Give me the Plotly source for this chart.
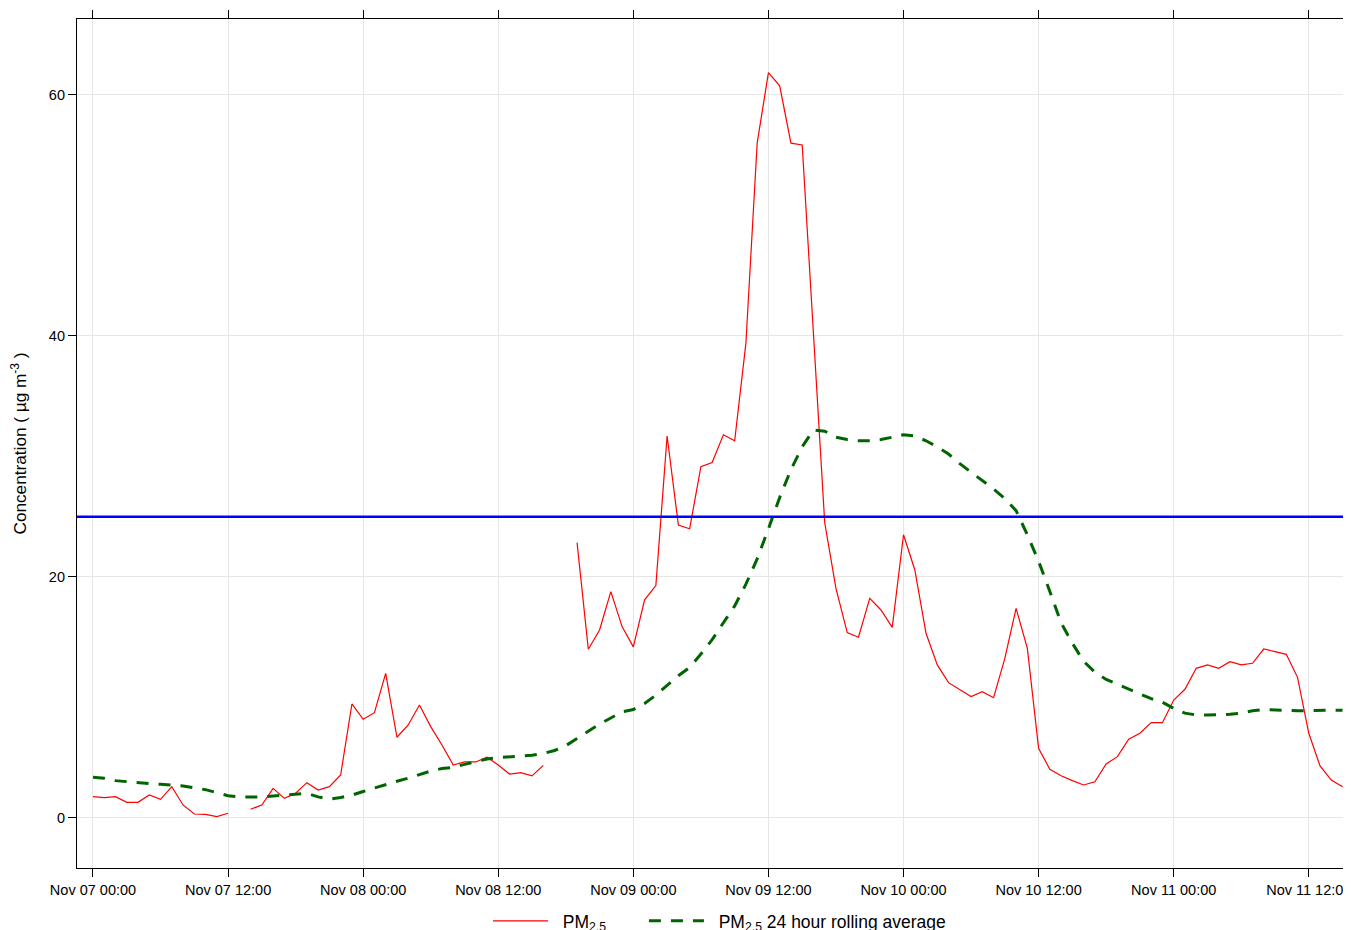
import pandas as pd
import plotly.graph_objects as go

# ---- data (hourly, starting Nov 07 00:00) ----
start = "2023-11-07 00:00"
n_hours = 112

pm25 = [1.77, 1.69, 1.77, 1.30, 1.30, 1.91, 1.55, 2.60, 1.08, 0.33, 0.30, 0.11, 0.39, None,
        0.72, 1.08, 2.46, 1.63, 2.05, 2.93, 2.32, 2.60, 3.57, 9.46, 8.19, 8.74, 12.0, 6.70,
        7.72, 9.38, 7.58, 6.06, 4.40, 4.65, 4.65, 5.04, 4.40, 3.65, 3.76, 3.49, 4.37, None,
        None, 22.85, 14.0, 15.6, 18.78, 15.88, 14.2, 18.1, 19.28, 31.7, 24.3, 24.0, 29.15, 29.5,
        31.8, 31.3, 39.4, 56.0, 61.85, 60.75, 56.0, 55.85, 39.9, 24.5, 19.06, 15.38, 15.0, 18.23,
        17.26, 15.82, 23.5, 20.6, 15.33, 12.7, 11.23, 10.68, 10.07, 10.48, 9.98, 13.25, 17.4, 14.08,
        5.78, 4.04, 3.51, 3.10, 2.74, 3.01, 4.48, 5.09, 6.53, 7.03, 7.91, 7.91, 9.79, 10.68,
        12.42, 12.7, 12.42, 12.97, 12.7, 12.84, 14.02, 13.8, 13.58, 11.67, 7.03, 4.32, 3.15, 2.6]

rolling24 = [3.38, 3.3, 3.1, 3.0, 2.9, 2.85, 2.8, 2.72, 2.65, 2.5, 2.35, 2.1, 1.85, 1.75,
             1.72, 1.75, 1.82, 1.9, 2.0, 2.05, 1.75, 1.55, 1.7, 1.9, 2.2, 2.5, 2.8, 3.05,
             3.3, 3.6, 3.9, 4.1, 4.2, 4.45, 4.7, 4.9, 5.0, 5.1, 5.15, 5.2, 5.35, 5.6,
             6.0, 6.6, 7.2, 7.8, 8.3, 8.8, 9.0, 9.5, 10.2, 11.0, 11.8, 12.5, 13.6, 14.8,
             16.2, 17.6, 19.4, 21.5, 24.0, 26.6, 28.9, 30.8, 32.2, 32.1, 31.6, 31.4, 31.3, 31.3,
             31.4, 31.6, 31.8, 31.7, 31.3, 30.8, 30.2, 29.4, 28.7, 28.0, 27.3, 26.5, 25.5, 23.5,
             21.3, 18.8, 16.2, 14.5, 13.0, 12.1, 11.5, 11.1, 10.7, 10.3, 9.9, 9.6, 9.1, 8.7,
             8.55, 8.55, 8.55, 8.6, 8.7, 8.9, 9.0, 8.95, 8.9, 8.9, 8.9, 8.95, 8.95, 8.95]

limit_value = 25
y_ticks = [0, 20, 40, 60]

times = pd.date_range(start, periods=n_hours, freq="h")
t0 = pd.Timestamp(start)

FONT = "Liberation Sans, Arial, sans-serif"
PAD = "\u00a0\u00a0"

fig = go.Figure()
fig.add_trace(go.Scatter(
    x=times, y=pm25, mode="lines", name=PAD + "PM<sub>2.5</sub>",
    line=dict(color="#FF0000", width=1.2), connectgaps=False, legend="legend",
))
fig.add_trace(go.Scatter(
    x=times, y=rolling24, mode="lines", name=PAD + "PM<sub>2.5</sub> 24 hour rolling average",
    line=dict(color="#006400", width=3, dash="12px,10px"), legend="legend2",
))
fig.add_hline(y=limit_value, line=dict(color="#0000FF", width=2.5), layer="above")

x_range = [t0 - pd.Timedelta(hours=1.42), t0 + pd.Timedelta(hours=111.75)]

legend_common = dict(
    orientation="h", xanchor="left",
    yref="container", y=0.0098, yanchor="middle",
    font=dict(size=17.5), itemwidth=55, bgcolor="rgba(0,0,0,0)",
)

# the page puts the figure 8 px from the top-left corner
fig.update_layout(
    width=1343, height=922,
    margin=dict(l=69, r=0, t=11, b=62),
    paper_bgcolor="white", plot_bgcolor="white",
    font=dict(family=FONT, size=14.5, color="#000000"),
    showlegend=True,
    legend=dict(x=0.3226, **legend_common),
    legend2=dict(x=0.4450, **legend_common),
    xaxis=dict(
        type="date", range=x_range,
        tick0=t0, dtick=12 * 3600 * 1000, tickformat="%b %d %H:%M",
        showgrid=True, gridcolor="#E6E6E6", gridwidth=1,
        showline=True, linecolor="#000000", linewidth=1.2, mirror="ticks",
        ticks="outside", ticklen=8, tickwidth=1.2, tickcolor="#000000",
        tickfont=dict(size=14.5), zeroline=False, ticklabeloverflow="allow",
    ),
    yaxis=dict(
        range=[-4.15, 66.3], tickvals=y_ticks,
        showgrid=True, gridcolor="#E6E6E6", gridwidth=1,
        showline=True, linecolor="#000000", linewidth=1.2, mirror=False,
        ticks="outside", ticklen=8, tickwidth=1.2, tickcolor="#000000",
        tickfont=dict(size=14.5), zeroline=False,
        title=dict(text="Concentration ( µg m<sup>-3</sup> )", font=dict(size=17.2), standoff=18),
    ),
)

fig.write_html("out.html")
